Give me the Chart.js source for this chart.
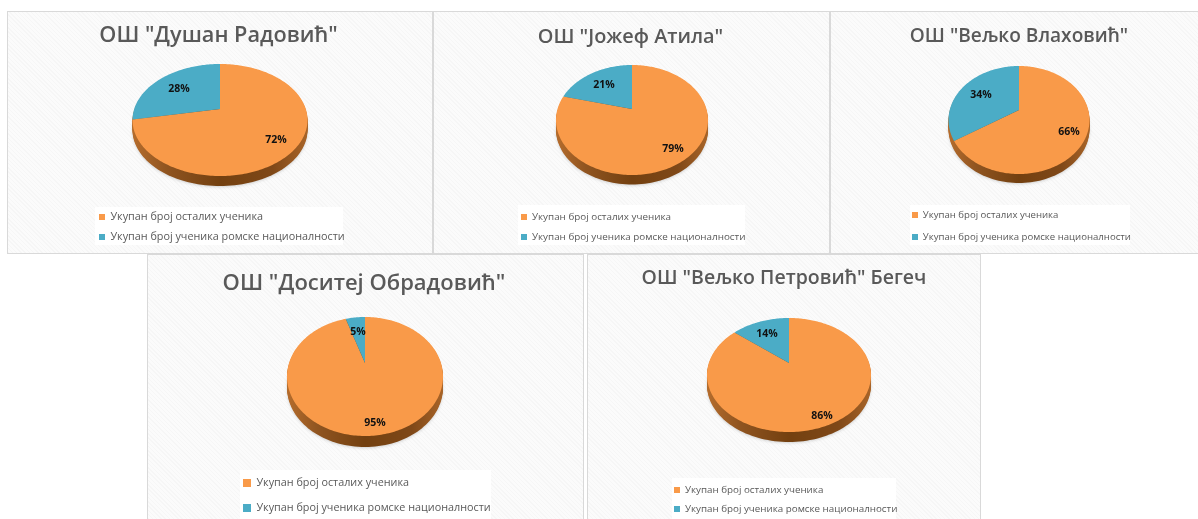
<!DOCTYPE html>
<html><head><meta charset="utf-8">
<style>
html,body{margin:0;padding:0;background:#fff;width:1198px;height:519px;overflow:hidden}
.panel{position:absolute;box-sizing:border-box;border:1px solid #d9d9d9;overflow:hidden;
background:repeating-linear-gradient(45deg,#f6f6f6 0,#f6f6f6 1px,#fbfbfb 1px,#fbfbfb 3px)}
canvas{position:absolute;left:0;top:0;filter:blur(.45px)}
</style>
<script src="https://cdn.jsdelivr.net/npm/chart.js@4"></script>
</head><body>
<script>
// ---- data ----
const categories = ['Укупан број осталих ученика', 'Укупан број ученика ромске националности'];
const titles = ['ОШ "Душан Радовић"', 'ОШ "Јожеф Атила"', 'ОШ "Вељко Влаховић"', 'ОШ "Доситеј Обрадовић"', 'ОШ "Вељко Петровић" Бегеч'];
const otherStudents = [72, 79, 66, 95, 86];
const romaStudents = [28, 21, 34, 5, 14];
const sliceColors = ['#f99a49', '#4bacc6'];

// ---- layout (page pixels) ----
const layouts = [
 {box:[7,11,426,243], title:[218.5,36,21.7], cx:219.5,ax:220,ay:109,top:64,bot:176,rx:87.5,depth:10,
  lab:[[276,140],[179,89]], leg:{box:[95,207,248,38],x:99,y:[217,237],fs:10.8,sw:6}},
 {box:[433,11,397,243], title:[630.5,37,19.9], cx:632,ax:632,ay:109,top:65,bot:175,rx:76,depth:9.5,
  lab:[[673,149],[604,85]], leg:{box:[518,205,227,40],x:521,y:[217,237],fs:9.85,sw:6}},
 {box:[830,11,369,243], title:[1019,37,19.1], cx:1019.5,ax:1019,ay:110,top:66,bot:174,rx:70.5,depth:9,
  lab:[[1069,132],[981,95]], leg:{box:[910,205,220,40],x:912,y:[215,237],fs:9.6,sw:6}},
 {box:[147,254,437,266], title:[364,284,22], cx:365,ax:365,ay:363,top:317,bot:436,rx:78,depth:11,
  lab:[[375,423],[358,332]], leg:{box:[240,470,251,49],x:243,y:[483,508],fs:10.8,sw:8}},
 {box:[587,254,394,266], title:[784,278,19.5], cx:789,ax:789,ay:363,top:318,bot:432,rx:82,depth:10,
  lab:[[822,416],[767,334]], leg:{box:[672,478,224,41],x:674,y:[490,509],fs:9.8,sw:6}}
];

const FONT = '"Open Sans", "Noto Sans", sans-serif';

// Perspective mapping of the library's circular arc: the apex sits above the ellipse centre.
function projector(L){
  const up = L.ay - L.top, dn = L.bot - L.ay;
  const a = 2 / (1/up + 1/dn), k = 1 - a/up;
  const c = L.rx * Math.sqrt(1 - k*k);
  return t => {
    const u = Math.cos(t), v = Math.sin(t), w = 1 + k*v;
    return [c*u/w, a*v/w];
  };
}

const pie3d = {
  id:'pie3d',
  afterLayout(chart){
    const L = chart.options.plugins.pie3d.layout, [bx,by] = L.box;
    const R = L.rx;
    const x = L.ax-bx, y = L.ay-by;
    chart.chartArea = {left:x-R,right:x+R,top:y-R,bottom:y+R,width:2*R,height:2*R};
    const t = chart.titleBlock, [tx,ty,ts] = L.title;
    const half = 300;
    t.left = tx-bx-half; t.right = tx-bx+half; t.top = ty-by-ts/2; t.bottom = ty-by+ts/2; t.width = 2*half; t.height = ts;
    const g = chart.legend, lg = L.leg;
    const spacing = lg.y[1]-lg.y[0];
    const pad = spacing - lg.fs;
    g.options.labels.padding = pad;
    g.left = lg.x-bx-pad; g.right = lg.box?lg.box[0]+lg.box[2]-bx+20:0;
    g.top = lg.y[0]-by-lg.fs/2-pad; g.bottom = g.top+2*spacing+2*pad+10;
  },
  beforeDraw(chart){
    const L = chart.options.plugins.pie3d.layout, [bx,by] = L.box, b = L.leg.box, c = chart.ctx;
    c.save(); c.fillStyle = '#ffffff'; c.fillRect(b[0]-bx,b[1]-by,b[2],b[3]); c.restore();
  },
  beforeDatasetsDraw(chart){
    const L = chart.options.plugins.pie3d.layout, c = chart.ctx, P = projector(L);
    const meta = chart.getDatasetMeta(0), arc0 = meta.data[0];
    const ox = arc0.x, oy = arc0.y;
    // extruded side
    const grad = c.createLinearGradient(ox-L.rx,0,ox+L.rx,0);
    grad.addColorStop(0,'#b56c2c'); grad.addColorStop(.2,'#8f5420'); grad.addColorStop(.5,'#734010');
    grad.addColorStop(.8,'#7f4818'); grad.addColorStop(1,'#a86428');
    c.save();
    c.shadowColor='rgba(120,120,120,.3)'; c.shadowBlur=3; c.shadowOffsetY=1;
    c.fillStyle = grad;
    for(let d=L.depth;d>=1;d--){
      c.beginPath();
      for(let i=0;i<=180;i++){const p=P(i/180*2*Math.PI);c.lineTo(ox+p[0],oy+p[1]+d);}
      c.closePath(); c.fill();
      c.shadowColor='transparent';
    }
    c.restore();
    // each library arc paints through the projection
    meta.data.forEach(arc=>{
      arc.draw = function(ctx){
        const s=this.startAngle,e=this.endAngle,n=Math.max(2,Math.ceil((e-s)/0.02));
        ctx.save(); ctx.beginPath(); ctx.moveTo(this.x,this.y);
        for(let i=0;i<=n;i++){const p=P(s+(e-s)*i/n);ctx.lineTo(this.x+p[0],this.y+p[1]);}
        ctx.closePath(); ctx.fillStyle=this.options.backgroundColor; ctx.fill(); ctx.restore();
      };
    });
  },
  afterDatasetsDraw(chart){
    const L = chart.options.plugins.pie3d.layout, [bx,by]=L.box, c=chart.ctx, ds=chart.data.datasets[0];
    c.save(); c.font='bold 10.5px '+FONT; c.fillStyle='#111'; c.textAlign='center'; c.textBaseline='middle';
    const tot=ds.data.reduce((a,b)=>a+b,0);
    ds.data.forEach((v,i)=>{c.fillText(Math.round(v/tot*100)+'%',L.lab[i][0]-bx,L.lab[i][1]-by);});
    c.restore();
  }
};

titles.forEach((title,i)=>{
  const L = layouts[i], [x,y,w,h]=L.box;
  const d=document.createElement('div'); d.className='panel';
  d.style.cssText=`left:${x}px;top:${y}px;width:${w}px;height:${h}px`;
  const cv=document.createElement('canvas'); cv.width=w; cv.height=h; cv.style.left='-1px'; cv.style.top='-1px';
  d.appendChild(cv); document.body.appendChild(d);
  new Chart(cv,{
    type:'pie',plugins:[pie3d],
    data:{labels:categories,datasets:[{data:[otherStudents[i],romaStudents[i]],backgroundColor:sliceColors,borderWidth:0,radius:L.rx}]},
    options:{responsive:false,animation:false,events:[],
      plugins:{
        pie3d:{layout:L},
        tooltip:{enabled:false},
        title:{display:true,text:title,padding:0,color:'#595959',align:'center',
          font:{family:FONT,size:L.title[2],weight:'600',lineHeight:1}},
        legend:{display:true,position:'left',align:'start',
          labels:{boxWidth:L.leg.sw,boxHeight:L.leg.sw,color:'#595959',padding:8,
            font:{family:FONT,size:L.leg.fs}}}
      }}
  });
});
</script>
</body></html>
